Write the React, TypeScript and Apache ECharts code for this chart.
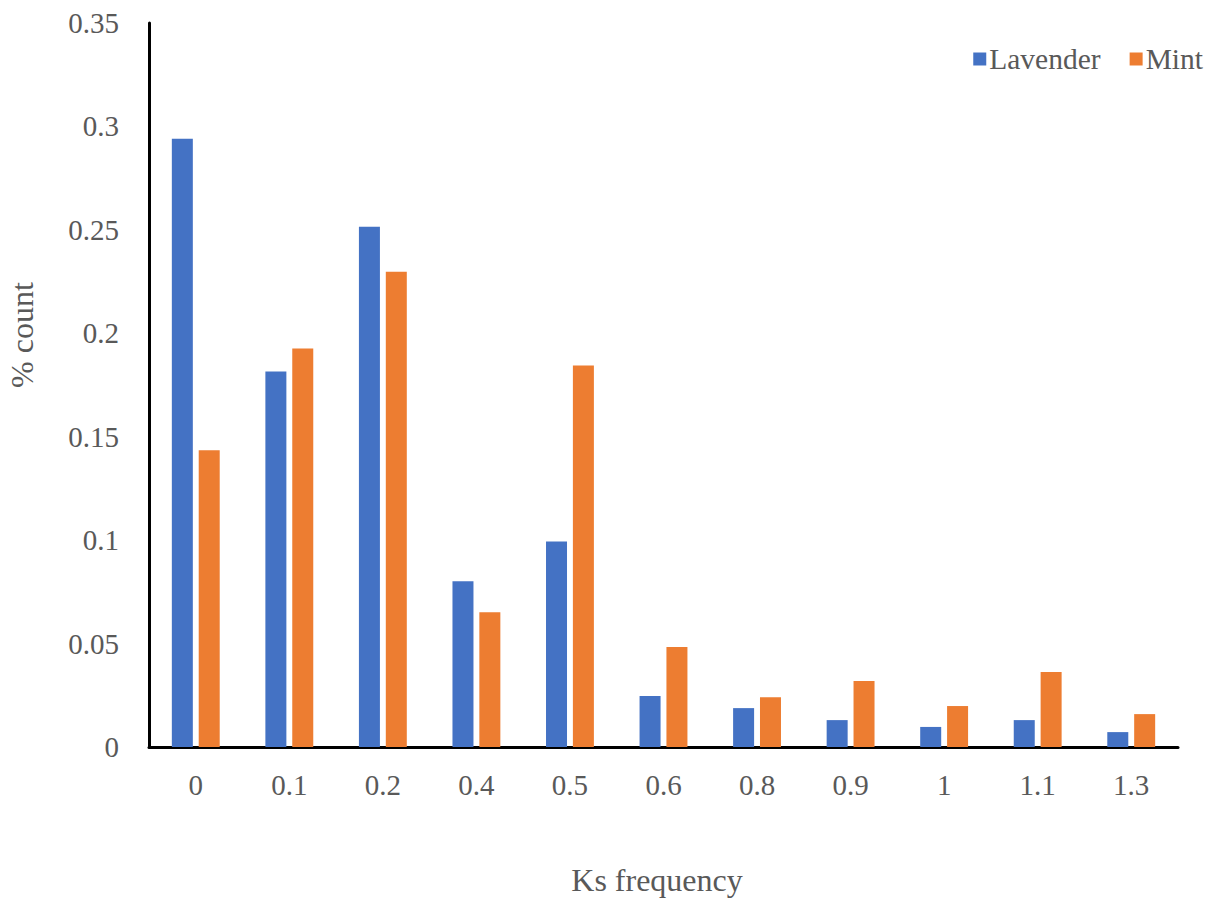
import React, { useEffect, useRef } from "react";
import * as echarts from "echarts";

const categories = ["0", "0.1", "0.2", "0.4", "0.5", "0.6", "0.8", "0.9", "1", "1.1", "1.3"];
const lavender = [0.294, 0.1815, 0.2515, 0.0801, 0.0994, 0.0246, 0.0188, 0.013, 0.0097, 0.013, 0.0072];
const mint = [0.1434, 0.1926, 0.2298, 0.0652, 0.1844, 0.0483, 0.0241, 0.0319, 0.0198, 0.0362, 0.0159];
const seriesNames = ["Lavender", "Mint"];
const xTitle = "Ks frequency";
const yTitle = "% count";

const FONT = "'Liberation Serif', 'Times New Roman', serif";
const GRAY = "#595959";

export default function App() {
  const ref = useRef<HTMLDivElement>(null);
  useEffect(() => {
    document.body.style.margin = "0";
    if (!ref.current) return;
    const chart = echarts.init(ref.current, null, { renderer: "svg" });
    chart.setOption({
      animation: false,
      textStyle: { fontFamily: FONT },
      grid: { left: 149, right: 39, top: 23, bottom: 152, containLabel: false },
      legend: {
        data: seriesNames,
        right: 9,
        top: 39,
        itemWidth: 13,
        itemHeight: 13,
        itemGap: 29,
        icon: "rect",
        textStyle: { fontFamily: FONT, fontSize: 29.5, color: GRAY, padding: [0, 0, 0, -2] },
      },
      xAxis: {
        type: "category",
        data: categories,
        axisLine: { lineStyle: { color: "#000", width: 3 } },
        axisTick: { show: false },
        axisLabel: { fontFamily: FONT, fontSize: 29, color: GRAY, margin: 23 },
      },
      yAxis: {
        type: "value",
        min: 0,
        max: 0.35,
        interval: 0.05,
        axisLine: { show: true, lineStyle: { color: "#000", width: 3 } },
        axisTick: { show: false },
        splitLine: { show: false },
        axisLabel: {
          fontFamily: FONT,
          fontSize: 29,
          color: GRAY,
          margin: 30,
          formatter: (v: number) => String(parseFloat(v.toFixed(2))),
        },
      },
      series: [
        {
          name: seriesNames[0],
          type: "bar",
          data: lavender,
          barWidth: 21,
          barGap: "28%",
          itemStyle: { color: "#4472C4" },
        },
        {
          name: seriesNames[1],
          type: "bar",
          data: mint,
          barWidth: 21,
          barGap: "28%",
          itemStyle: { color: "#ED7D31" },
        },
      ],
      graphic: [
        {
          type: "text",
          x: 657,
          y: 880,
          style: {
            text: xTitle,
            font: `32px ${FONT}`,
            fill: GRAY,
            textAlign: "center",
            textVerticalAlign: "middle",
          },
        },
        {
          type: "text",
          x: 22,
          y: 335,
          rotation: Math.PI / 2,
          style: {
            text: yTitle,
            font: `32px ${FONT}`,
            fill: GRAY,
            textAlign: "center",
            textVerticalAlign: "middle",
          },
        },
      ],
    });
    return () => chart.dispose();
  }, []);
  return <div ref={ref} style={{ width: 1217, height: 899 }} />;
}
